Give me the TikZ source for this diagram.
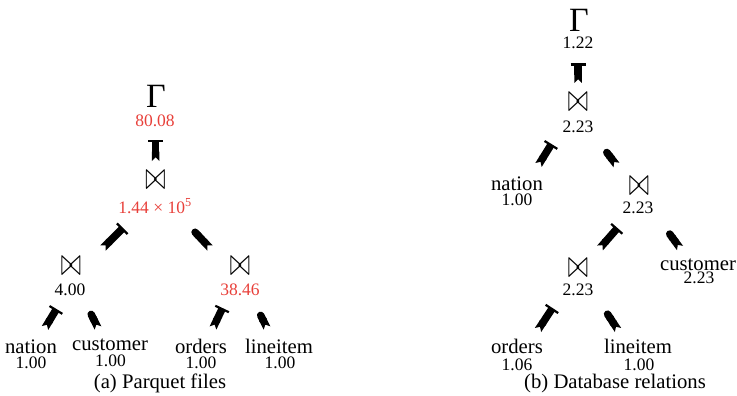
\documentclass[tikz,border=0pt]{standalone}
\usepackage{fontspec}
\usepackage{graphicx}
\setmainfont{Liberation Serif}
\usetikzlibrary{arrows.meta}
\definecolor{valred}{RGB}{232,64,58}
\tikzset{
  lbl/.style={inner sep=0pt, anchor=base, text depth=0pt, font=\fontsize{20.7}{22}\selectfont},
  num/.style={inner sep=0pt, anchor=base, text height=11.5pt, text depth=0pt, font=\fontsize{17.5}{19}\selectfont},
  hot/.style={num, text=valred},
  gam/.style={inner sep=0pt, anchor=base, text depth=0pt, font=\fontsize{34}{36}\selectfont},
  joinsym/.style={inner sep=0pt, anchor=center, font=\fontsize{32}{34}\selectfont},
  capt/.style={inner sep=0pt, anchor=base, font=\fontsize{20.7}{22}\selectfont},
  connbar/.style={line width=7.5pt, {Triangle Cap[reversed]}-{Bar[width=15pt,line width=2.2pt]}},
  connround/.style={line width=7.5pt, {Triangle Cap[reversed]}-{Round Cap}},
}
\newcommand{\jsym}{\scalebox{1}[1.6]{$\bowtie$}}
\begin{document}
\begin{tikzpicture}[x=1pt,y=-1pt]
\useasboundingbox (0,0) rectangle (737,396);
% ---------- (a) Parquet files ----------
\node[gam] (ga) at (156,108) {Γ};
\node[hot] (gav) at (155,127) {80.08};
\node[joinsym] (ja) at (155.5,180) {\jsym};
\node[hot, text height=14pt] (jav) at (155,213) {1.44 × 10\textsuperscript{5}};
\node[joinsym] (jb) at (71,266) {\jsym};
\node[num] (jbv) at (70,295) {4.00};
\node[joinsym] (jc) at (240,266) {\jsym};
\node[hot] (jcv) at (240,295) {38.46};
\node[lbl] (na) at (31,353) {nation};
\node[num] (nav) at (31,368) {1.00};
\node[lbl] (ca) at (110,350) {customer};
\node[num] (cav) at (110.5,366) {1.00};
\node[lbl] (oa) at (201,353) {orders};
\node[num] (oav) at (201,368) {1.00};
\node[lbl] (la) at (279,353) {lineitem};
\node[num] (lav) at (280,368) {1.00};
\node[capt] (capa) at (160,388) {(a) Parquet files};
% connectors (a)
\coordinate (a0s) at (155.5,161); \coordinate (a0e) at (155.5,139.5);
\coordinate (a1s) at (103,248);   \coordinate (a1e) at (123,228);
\coordinate (a2s) at (210,248);   \coordinate (a2e) at (192.5,229.5);
\coordinate (a3s) at (45,328);    \coordinate (a3e) at (56.5,309);
\coordinate (a4s) at (98,328);    \coordinate (a4e) at (89.5,311);
\coordinate (a5s) at (213,328);   \coordinate (a5e) at (222.5,308);
\coordinate (a6s) at (267,328);   \coordinate (a6e) at (259,312);
\draw[connbar] (a0s) -- (a0e);
\draw[connbar] (a1s) -- (a1e);
\draw[connround] (a2s) -- (a2e);
\draw[connbar] (a3s) -- (a3e);
\draw[connround] (a4s) -- (a4e);
\draw[connbar] (a5s) -- (a5e);
\draw[connround] (a6s) -- (a6e);
% ---------- (b) Database relations ----------
\node[gam] (gb) at (579,32) {Γ};
\node[num] (gbv) at (578,49) {1.22};
\node[joinsym] (jd) at (578,102) {\jsym};
\node[num] (jdv) at (578,132) {2.23};
\node[lbl] (nb) at (517,190) {nation};
\node[num] (nbv) at (517,205) {1.00};
\node[joinsym] (je) at (639,186) {\jsym};
\node[num] (jev) at (638,213) {2.23};
\node[joinsym] (jf) at (578,268) {\jsym};
\node[num] (jfv) at (578,295) {2.23};
\node[lbl] (cb) at (698,270) {customer};
\node[num] (cbv) at (699,283) {2.23};
\node[lbl] (ob) at (517,353) {orders};
\node[num] (obv) at (517,370) {1.06};
\node[lbl] (lb) at (638,353) {lineitem};
\node[num] (lbv) at (639,370) {1.00};
\node[capt] (capb) at (615,388) {(b) Database relations};
% connectors (b)
\coordinate (b0s) at (578,83);    \coordinate (b0e) at (578,63.5);
\coordinate (b1s) at (538.5,165); \coordinate (b1e) at (551.5,144);
\coordinate (b2s) at (616.5,165); \coordinate (b2e) at (604.5,149.5);
\coordinate (b3s) at (600,248);   \coordinate (b3e) at (617.5,228);
\coordinate (b4s) at (680,248);   \coordinate (b4e) at (667.5,231);
\coordinate (b5s) at (538,330);   \coordinate (b5e) at (552.5,308);
\coordinate (b6s) at (618,330);   \coordinate (b6e) at (605.5,311);
\draw[connbar] (b0s) -- (b0e);
\draw[connbar] (b1s) -- (b1e);
\draw[connround] (b2s) -- (b2e);
\draw[connbar] (b3s) -- (b3e);
\draw[connround] (b4s) -- (b4e);
\draw[connbar] (b5s) -- (b5e);
\draw[connround] (b6s) -- (b6e);
\end{tikzpicture}
\end{document}
